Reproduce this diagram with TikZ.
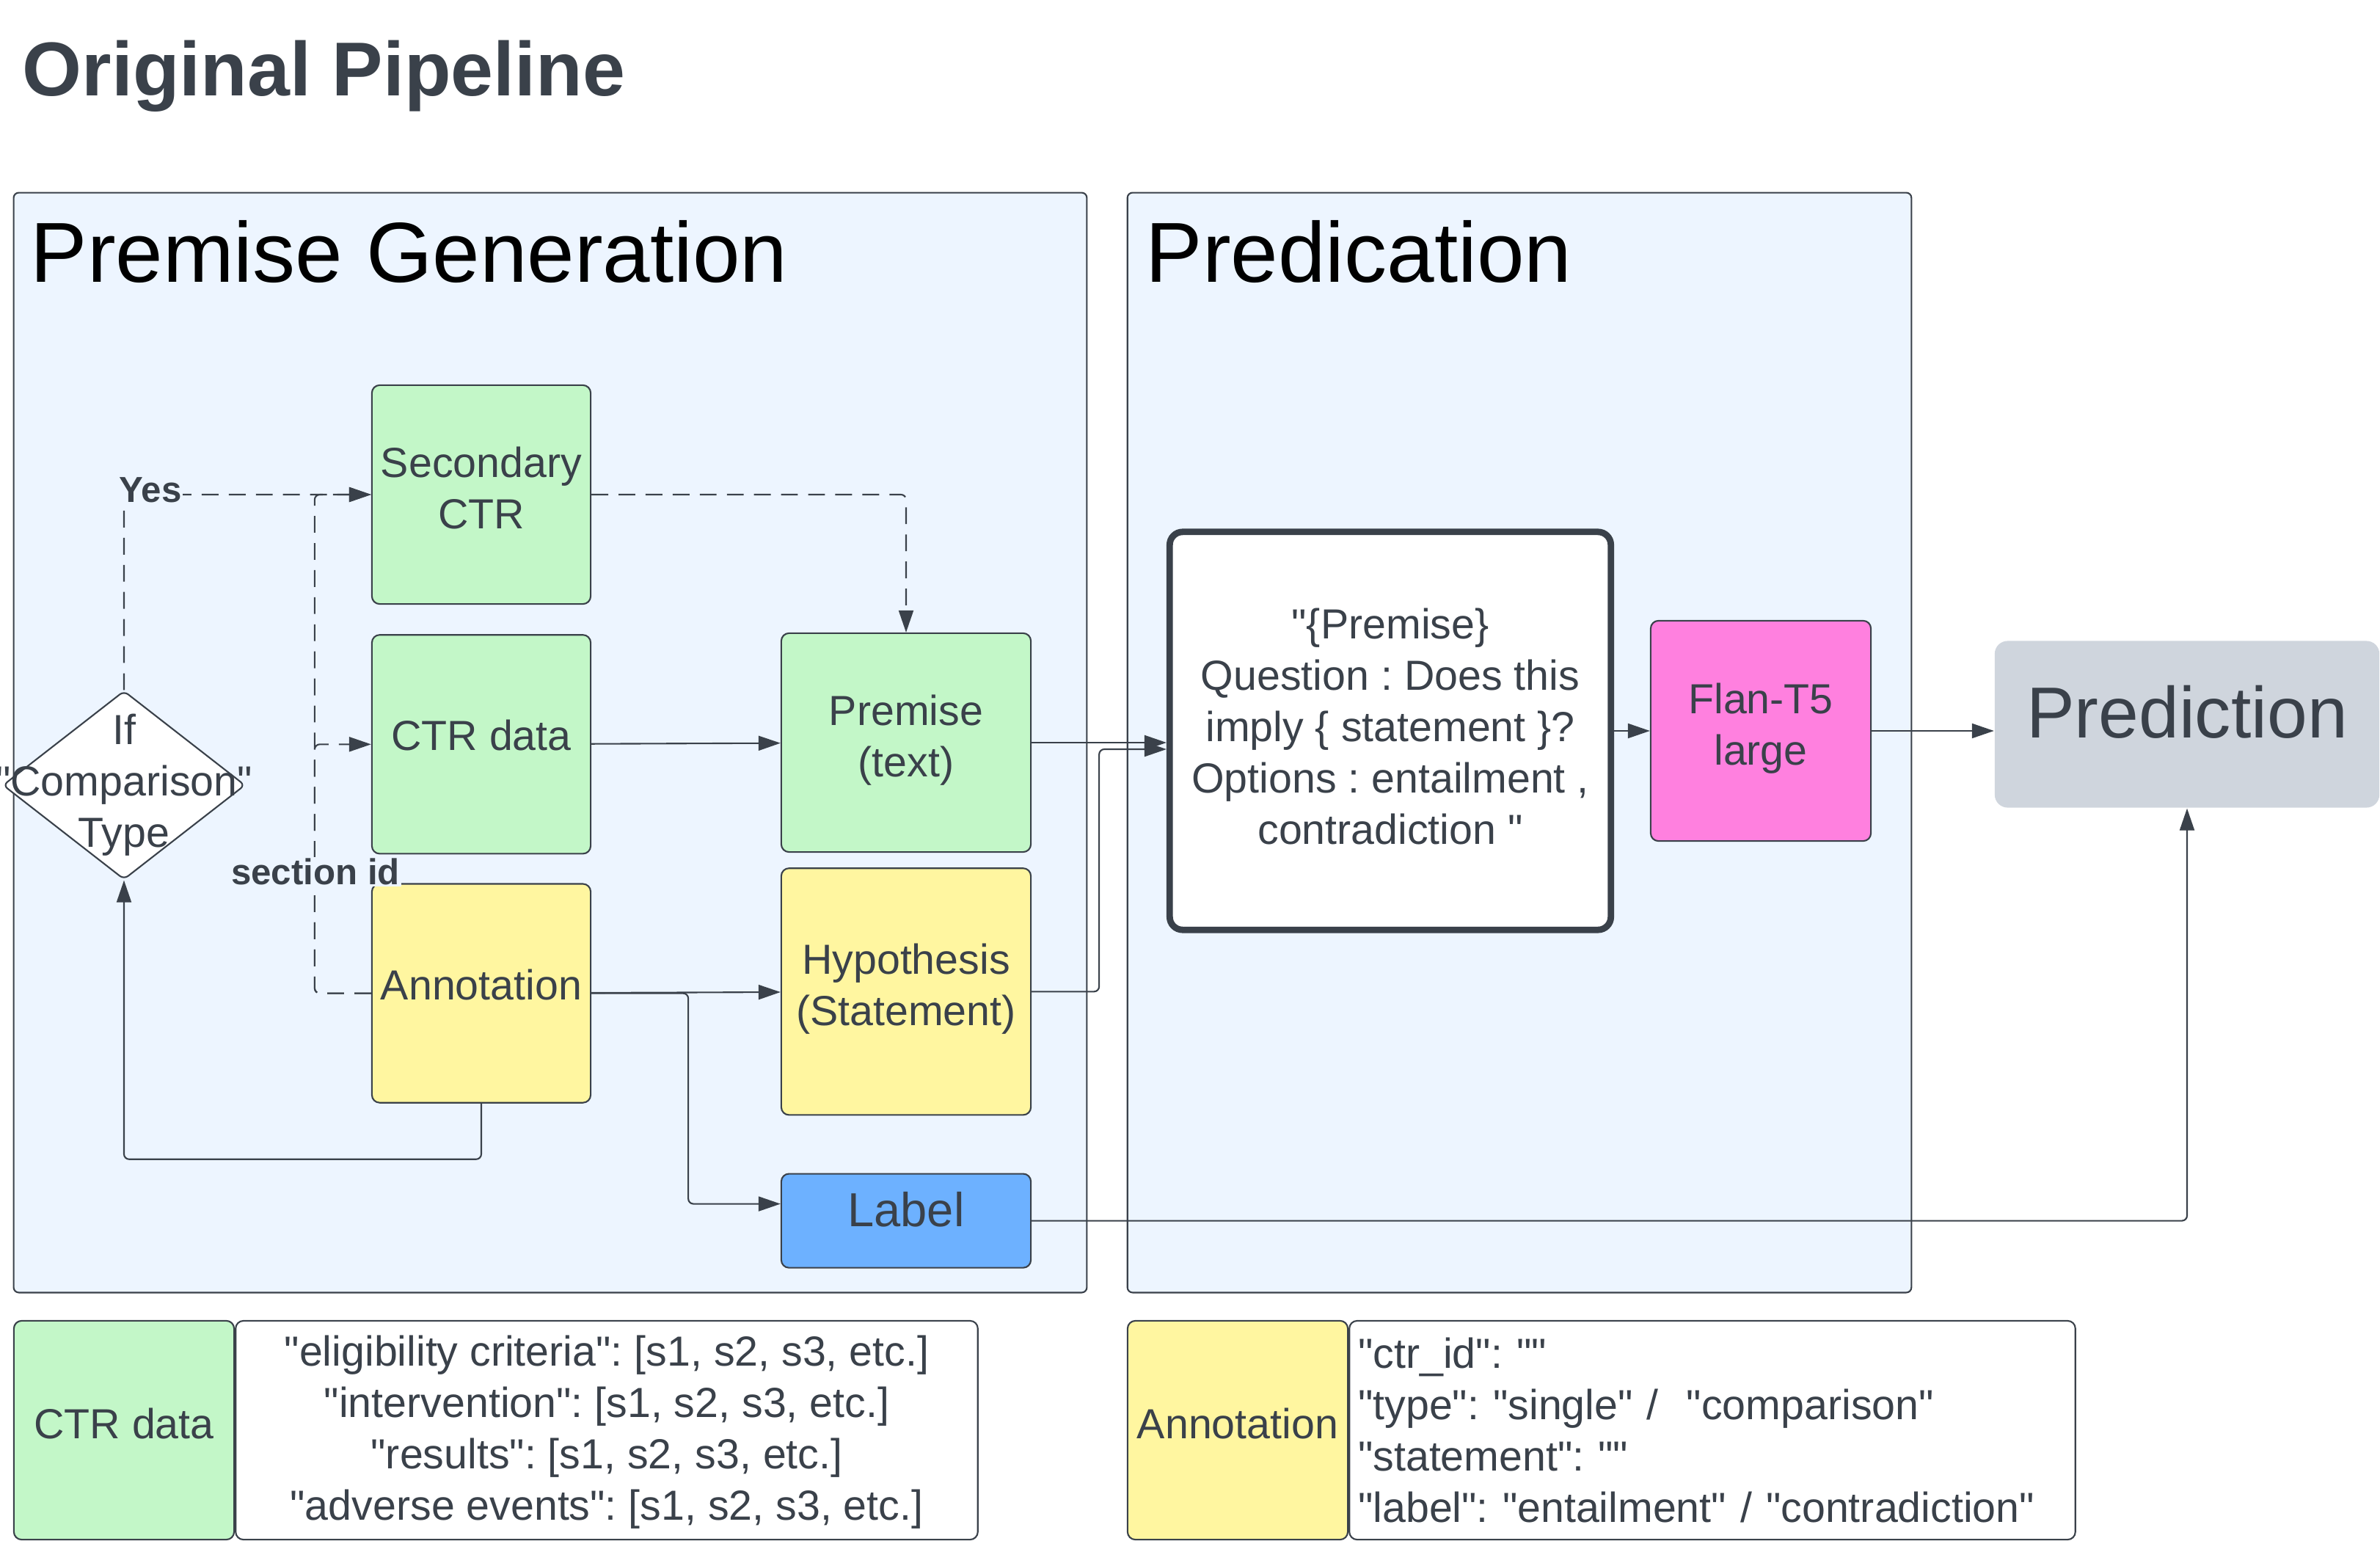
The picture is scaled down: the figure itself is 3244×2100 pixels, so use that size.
\documentclass[tikz,border=0pt]{standalone}
\usepackage{fontspec}
\setmainfont{Liberation Sans}[Ligatures=TeXOff]
\frenchspacing
\usepackage{tikz}
\usetikzlibrary{positioning, arrows.meta, shapes.geometric}
\definecolor{ink}{HTML}{3A414A}
\definecolor{panelbg}{HTML}{EDF5FF}
\definecolor{ctrgreen}{HTML}{C3F7C8}
\definecolor{annyellow}{HTML}{FFF6A0}
\definecolor{labblue}{HTML}{6DB1FF}
\definecolor{flanpink}{HTML}{FF80DF}
\definecolor{predgray}{HTML}{CFD5DD}
\newcommand{\boxfont}{\fontsize{16.3}{19.9}\selectfont}
\tikzset{
box/.style={shape=rectangle, rounded corners=3pt, draw=ink, line width=0.6pt, minimum width=2.98cm, minimum height=2.98cm, inner sep=1pt, align=center, text=ink, font=\boxfont, text depth=5.5pt}, ctrbox/.style={box, fill=ctrgreen}, annbox/.style={box, fill=annyellow},
decision/.style={diamond, draw=ink, fill=white, line width=0.6pt, rounded corners=2pt, minimum width=3.3cm, minimum height=2.57cm, inner sep=0},
panel/.style={draw=ink, fill=panelbg, line width=0.6pt, rounded corners=2pt, inner sep=0}, paneltitle/.style={anchor=base west, inner sep=0, font=\fontsize{33}{40}\selectfont},
conn/.style={->, draw=ink, line width=0.6pt, rounded corners=2pt}, dconn/.style={conn, dash pattern=on 6.5pt off 4pt},
lbl/.style={fill=panelbg, inner sep=0.5pt, text=ink, font=\fontsize{14}{17}\selectfont\bfseries},
legkey/.style={box, minimum width=3cm, text depth=5pt}, legtext/.style={shape=rectangle, rounded corners=3pt, draw=ink, fill=white, line width=0.6pt, minimum height=2.98cm, inner sep=1pt, text=ink, font=\boxfont}}

\begin{document}
\begin{tikzpicture}[x=0.01cm, y=-0.01cm, >={Triangle[length=0.3cm, width=0.2cm]}]
\useasboundingbox (0, 0) rectangle (3244, 2100);
\node [anchor=base west, inner sep=0, text=ink, font=\fontsize{29.6}{35}\selectfont\bfseries] at (30, 131) (title) {Original Pipeline};
\node [panel, minimum width=14.62cm, minimum height=14.98cm] at (750, 1012) (pg) {};
\node [panel, minimum width=10.68cm, minimum height=14.98cm] at (2071, 1012) (pd) {};
\node [paneltitle] at (41, 385) (pgtitle) {Premise Generation};
\node [paneltitle] at (1561, 385) (pdtitle) {Predication};

\node [ctrbox] at (656, 674) (sec) {Secondary\\CTR};
\node [ctrbox, below=0.4cm of sec, text depth=7pt] (ctr) {CTR data};
\node [annbox, below=0.39cm of ctr, text depth=7pt] (ann) {Annotation};
\node [ctrbox, minimum width=3.4cm] at (1235, 1012) (pre) {Premise\\(text)};
\node [annbox, minimum width=3.4cm, minimum height=3.36cm, below=0.2cm of pre] (hyp) {Hypothesis\\(Statement)};
\node [box, fill=labblue, minimum width=3.4cm, minimum height=1.28cm, font=\fontsize{18.5}{22}\selectfont, text depth=9pt, below=0.78cm of hyp] (lab) {Label};
\node [decision, label={[align=center, text=ink, font=\boxfont]center:If\\"Comparison"\\Type}] at (169, 1070) (cmp) {};

\node [box, fill=white, line width=2.5pt, rounded corners=5pt, minimum width=6.01cm, minimum height=5.42cm, text depth=3.5pt] at (1895, 996) (prm) {"\{Premise\}\\Question : Does this\\imply \{ statement \}?\\Options : entailment ,\\contradiction "};
\node [box, fill=flanpink, minimum width=3cm, minimum height=3cm] at (2400, 996) (flan) {Flan-T5\\large};
\node [box, draw=none, fill=predgray, rounded corners=5pt, minimum width=5.24cm, minimum height=2.27cm, font=\fontsize{28}{34}\selectfont, text depth=10pt] at (2981, 987) (pred) {Prediction};

\draw [dconn] (cmp.north) |- (sec.west);
\foreach \t in {sec, ctr} \draw [dconn] (ann.west) -- ++(-77, 0) |- (\t.west);
\draw [dconn] (sec.east) -| (pre.north);
\draw [conn] (ctr) -- (pre);
\draw [conn] (ann) -- (hyp);
\draw [conn] (ann.east) -- ++(132, 0) |- ([yshift=0.23cm]lab.west);
\draw [conn] (ann.south) -- ++(0, 76) -| (cmp.south);
\draw [conn] (pre.east) -- (pre.east -| prm.west);
\draw [conn] (hyp.east) -- ++(92, 0) |- ([yshift=-0.25cm]prm.west);
\draw [conn] (prm) -- (flan);
\draw [conn] (flan.east) -- (flan.east -| pred.west);
\draw [conn] (lab.east) -| (pred.south);
\node [lbl] at (205, 668) (yes) {Yes};
\node [lbl] at (430, 1188) (sid) {section id};

\node [legkey, fill=ctrgreen] at (169, 1949) (keyctr) {CTR data};
\node [legtext, minimum width=10.11cm, align=center, text depth=2pt, right=0pt of keyctr] (txtctr) {"eligibility criteria": [s1, s2, s3, etc.]\\"intervention": [s1, s2, s3, etc.]\\"results": [s1, s2, s3, etc.]\\"adverse events": [s1, s2, s3, etc.]};
\node [legkey, fill=annyellow] at (1687, 1949) (keyann) {Annotation};
\node [legtext, minimum width=9.89cm, text width=9.65cm, align=left, right=0pt of keyann] (txtann) {"ctr\_id": ""\\"type": "single" / \ "comparison"\\"statement": ""\\"label": "entailment" / "contradiction"};
\end{tikzpicture}
\end{document}
